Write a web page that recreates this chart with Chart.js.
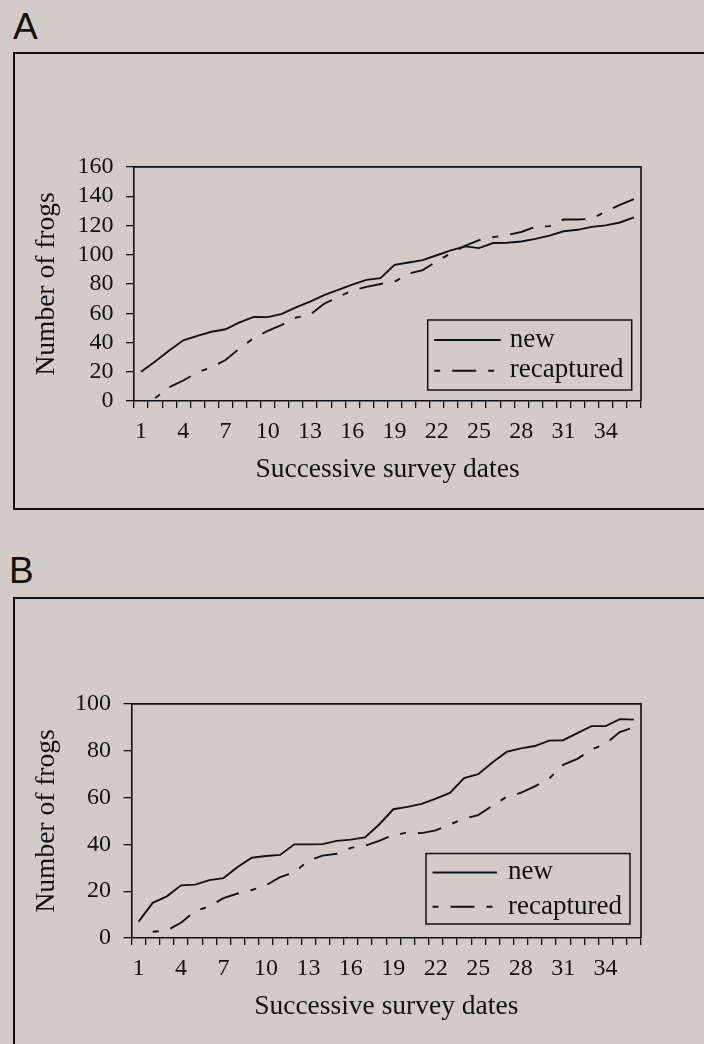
<!DOCTYPE html>
<html>
<head>
<meta charset="utf-8">
<script src="https://cdn.jsdelivr.net/npm/chart.js@4.4.1/dist/chart.umd.min.js"></script>
<style>
  html, body { margin: 0; padding: 0; background: #d3ccc6; }
  body { width: 704px; height: 1044px; position: relative; overflow: hidden; }
  .lbl { position: absolute; font-family: "Liberation Sans", Arial, sans-serif; font-size: 37px; line-height: 1; color: #111; }
  .box { position: absolute; border: 2px solid #111; border-right: none; }
  .cv { position: absolute; left: 0; width: 704px; height: 370px; }
</style>
</head>
<body>
<div class="lbl" style="left:13px; top:8px;">A</div>
<div class="box" style="left:13px; top:52px; width:720px; height:454px;"></div>
<div class="lbl" style="left:9px; top:552px;">B</div>
<div class="box" style="left:13px; top:597px; width:720px; height:480px; border-bottom:none;"></div>
<div class="cv" style="top:140px;"><canvas id="chartA"></canvas></div>
<div class="cv" style="top:676.5px;"><canvas id="chartB"></canvas></div>

<script>
// ---------- data ----------
const dates = ['1','2','3','4','5','6','7','8','9','10','11','12','13','14','15','16','17','18',
               '19','20','21','22','23','24','25','26','27','28','29','30','31','32','33','34','35','36'];
const xTickLabels = ['1','4','7','10','13','16','19','22','25','28','31','34'];

const newA = [20,27,34.5,41.5,44.5,47.3,49,53.7,57.5,57.3,59.5,64,68,72.4,76,79.5,82.8,84,
              93,94.7,96.3,99.6,102.9,105.7,104.5,108,108.2,109,110.8,113,116,117,119,120,122,125.5];
const recapturedA = [null,2,9.5,14,19.5,23,28,36,43,48,52,57,59,66.5,71,75.5,78,80,
                     81.5,87,89.5,95.5,101,106,110,112,113.5,115.5,119,119.5,124,124,124.5,129.5,134,138];
const yTicksA = [0,20,40,60,80,100,120,140,160];

const newB = [7,15,17.8,22.5,22.8,24.7,25.6,30.3,34.3,35,35.5,40,40,40.1,41.5,42,43,48.5,
              55,56,57.3,59.5,62,68.3,70,75,79.5,81,82,84.3,84.5,87.5,90.5,90.5,93.5,93.3];
const recapturedB = [null,2.7,3.2,6.5,11.5,13.5,17,19,20.5,22.5,26,28,33,35.2,36,38.5,39.4,41.5,
                     44,45,44.8,46,48.5,51,52.5,56.5,60.3,62,64.8,68,74,76.5,80.5,83,88,90];
const yTicksB = [0,20,40,60,80,100];

const seriesNames = ['new', 'recaptured'];
const xTitle = 'Successive survey dates';
const yTitle = 'Number of frogs';

// ---------- style ----------
const INK = '#111111';
const SERIF = "'Liberation Serif', 'Times New Roman', serif";
Chart.defaults.font.family = SERIF;
Chart.defaults.color = INK;

const framePlugin = {
  id: 'plotFrame',
  afterDraw(chart) {
    const { ctx, chartArea: a } = chart;
    ctx.save();
    ctx.strokeStyle = INK;
    ctx.lineWidth = 1.6;
    ctx.setLineDash([]);
    ctx.beginPath();
    ctx.moveTo(a.left, a.top);
    ctx.lineTo(a.right, a.top);
    ctx.lineTo(a.right, a.bottom);
    ctx.stroke();
    ctx.restore();
  }
};

const boxLegendPlugin = {
  id: 'boxLegend',
  afterDraw(chart, args, o) {
    const { ctx, chartArea: a } = chart;
    const x = a.right - o.rightGap - o.width;
    const y = a.bottom - o.bottomGap - o.height;
    ctx.save();
    ctx.setLineDash([]);
    ctx.lineWidth = 1.5;
    ctx.strokeStyle = INK;
    ctx.strokeRect(x, y, o.width, o.height);
    chart.data.datasets.forEach((ds, i) => {
      const ly = y + o.rows[i];
      ctx.beginPath();
      ctx.setLineDash(ds.borderDash || []);
      ctx.lineWidth = ds.borderWidth;
      ctx.strokeStyle = ds.borderColor;
      ctx.moveTo(x + o.sampleStart, ly);
      ctx.lineTo(x + o.sampleEnd, ly);
      ctx.stroke();
      ctx.setLineDash([]);
      ctx.fillStyle = INK;
      ctx.font = o.fontSize + 'px ' + SERIF;
      ctx.textAlign = 'left';
      ctx.textBaseline = 'alphabetic';
      ctx.fillText(ds.label, x + o.textStart, ly + o.baselineShift);
    });
    ctx.restore();
  }
};

function makeChart(canvasId, newVals, recapVals, yTicks, yAxisWidth, legendOpts) {
  return new Chart(document.getElementById(canvasId), {
    type: 'line',
    data: {
      labels: dates,
      datasets: [
        { label: seriesNames[0], data: newVals, borderColor: INK, borderWidth: 1.9,
          pointRadius: 0, tension: 0, fill: false },
        { label: seriesNames[1], data: recapVals, borderColor: INK, borderWidth: 1.9,
          borderDash: [6, 12, 24, 12], pointRadius: 0, tension: 0, fill: false, spanGaps: false }
      ]
    },
    options: {
      responsive: true,
      maintainAspectRatio: false,
      animation: false,
      devicePixelRatio: 1,
      events: [],
      layout: { padding: { top: 17, right: 63, bottom: 0, left: 0 } },
      plugins: {
        legend: { display: false },
        tooltip: { enabled: false },
        boxLegend: legendOpts
      },
      scales: {
        x: {
          type: 'category',
          offset: true,
          grid: { display: true, offset: true, drawOnChartArea: false, drawTicks: true,
                  tickLength: 7, color: INK, lineWidth: 1.3 },
          border: { display: true, color: INK, width: 1.6 },
          ticks: {
            autoSkip: false, maxRotation: 0, minRotation: 0, padding: 9.3,
            font: { size: 24 }, color: INK,
            callback: (v, i) => xTickLabels.includes(dates[i]) ? dates[i] : ''
          },
          title: { display: true, text: xTitle, font: { size: 27.5 }, color: INK,
                   padding: { top: 0, bottom: 23.5 } },
          afterFit: (s) => { s.height = 109; }
        },
        y: {
          min: yTicks[0],
          max: yTicks[yTicks.length - 1],
          grid: { display: true, drawOnChartArea: false, drawTicks: true,
                  tickLength: 8, color: INK, lineWidth: 1.3 },
          border: { display: true, color: INK, width: 1.6 },
          ticks: { autoSkip: false, padding: 12.5, font: { size: 24 }, color: INK },
          afterBuildTicks: (s) => { s.ticks = yTicks.map(v => ({ value: v })); },
          title: { display: true, text: yTitle, font: { size: 27.5 }, color: INK,
                   padding: { top: 30.5, bottom: 0 } },
          afterFit: (s) => { s.width = yAxisWidth; }
        }
      }
    },
    plugins: [framePlugin, boxLegendPlugin]
  });
}

makeChart('chartA', newA, recapturedA, yTicksA, 134, {
  rightGap: 9.3, bottomGap: 11, width: 204, height: 70,
  rows: [20, 50.7], sampleStart: 6.5, sampleEnd: 73, textStart: 82, baselineShift: 6.7, fontSize: 27
});
makeChart('chartB', newB, recapturedB, yTicksB, 131.5, {
  rightGap: 11, bottomGap: 14, width: 204, height: 70.5,
  rows: [19, 53.3], sampleStart: 6.5, sampleEnd: 71, textStart: 82, baselineShift: 6.7, fontSize: 27
});
</script>
</body>
</html>
